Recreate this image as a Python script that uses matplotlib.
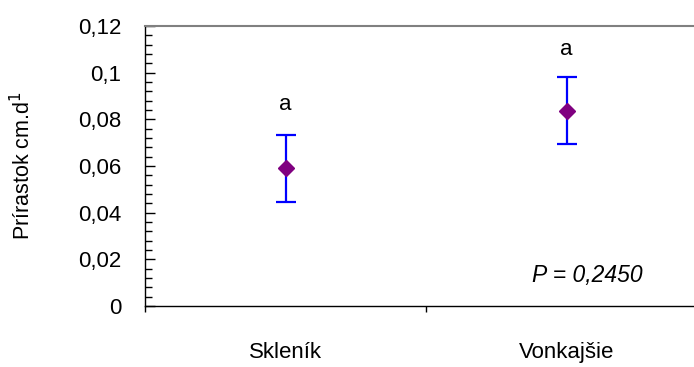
import numpy as np
import matplotlib
matplotlib.use("Agg")
import matplotlib.pyplot as plt

# --- data ---
categories = ["Skleník", "Vonkajšie"]
means = [0.059, 0.0837]
errors = [0.0145, 0.0143]
letters = ["a", "a"]
letter_y = [0.0862, 0.110]
p_text = "P = 0,2450"
ytick_vals = [0, 0.02, 0.04, 0.06, 0.08, 0.1, 0.12]
ytick_labels = ["0", "0,02", "0,04", "0,06", "0,08", "0,1", "0,12"]

plt.rcParams["font.family"] = ["Liberation Sans", "DejaVu Sans"]

W, H = 694, 367
fig = plt.figure(figsize=(W / 100, H / 100), dpi=100)
# plot area runs past the right edge (the reference is cropped there)
ax = fig.add_axes([145 / W, (H - 306) / H, 562 / W, 280 / H])

x = np.arange(1, len(categories) + 1)
ax.errorbar(x, means, yerr=errors, fmt="none", ecolor="#0000ff",
            elinewidth=1.6, capsize=7, capthick=1.6, zorder=2)
ax.plot(x, means, linestyle="none", marker="D", markersize=8.5,
        color="#800080", zorder=3)

for xi, lab, ly in zip(x, letters, letter_y):
    ax.text(xi, ly, lab, ha="center", va="center", fontsize=16)

ax.text(1.877, 0.0129, p_text, ha="left", va="center", fontsize=16.5,
        style="italic")

ax.set_xlim(0.5, len(categories) + 0.5)
ax.set_ylim(0, 0.12)

# y axis: major + minor ticks pointing inwards
ax.set_yticks(ytick_vals)
ax.set_yticklabels(ytick_labels)
ax.set_yticks(np.arange(0, 0.1201, 0.004), minor=True)
ax.tick_params(axis="y", which="major", direction="in", length=7,
               width=1, labelsize=16, pad=17)
ax.tick_params(axis="y", which="minor", direction="in", length=5, width=1)

# x axis: ticks at category boundaries, labels at category centres
ax.set_xticks([0.5, 1.5, 2.5])
ax.set_xticklabels([])
ax.set_xticks(x, minor=True)
ax.set_xticklabels(categories, minor=True)
ax.tick_params(axis="x", which="major", direction="out", length=4.5, width=1)
ax.tick_params(axis="x", which="minor", length=0, labelsize=16, pad=26)

ax.set_ylabel("Prírastok cm.d$^{1}$", fontsize=15.5)
ax.yaxis.set_label_coords(-(145 - 23) / 562, 0.5)
ax.yaxis.label.set_va("center")

ax.spines["left"].set_color("black")
ax.spines["bottom"].set_color("black")
ax.spines["left"].set_linewidth(1)
ax.spines["bottom"].set_linewidth(1)
ax.spines["top"].set_color("#808080")
ax.spines["top"].set_linewidth(1.5)
ax.spines["right"].set_visible(False)

fig.savefig("out.png", dpi=100)
